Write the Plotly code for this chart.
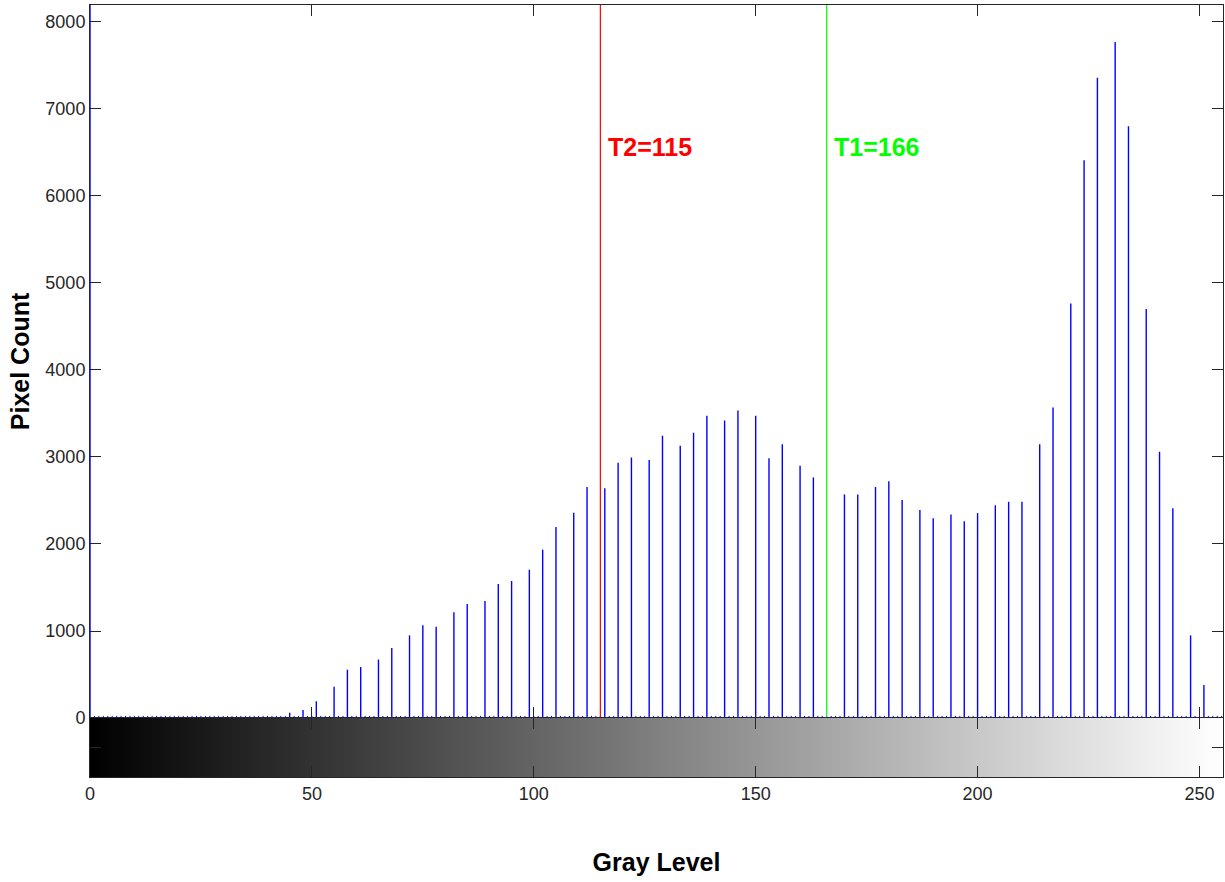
import plotly.graph_objects as go

# ---- data ----
stem_levels = [0, 45, 48, 51, 55, 58, 61, 65, 68, 72, 75, 78, 82, 85, 89, 92, 95, 99,
               102, 105, 109, 112, 116, 119, 122, 126, 129, 133, 136, 139, 143, 146,
               150, 153, 156, 160, 163, 170, 173, 177, 180, 183, 187, 190, 194, 197,
               200, 204, 207, 210, 214, 217, 221, 224, 227, 231, 234, 238, 241, 244,
               248, 251]
stem_counts = [8200, 60, 92, 192, 360, 555, 586, 672, 805, 950, 1065, 1050, 1215, 1310,
               1345, 1540, 1575, 1705, 1935, 2195, 2360, 2655, 2640, 2935, 2995, 2965,
               3245, 3130, 3280, 3475, 3420, 3535, 3475, 2985, 3145, 2900, 2765, 2570,
               2570, 2655, 2720, 2505, 2390, 2295, 2340, 2260, 2355, 2445, 2485, 2485,
               3145, 3570, 4765, 6410, 7360, 7770, 6800, 4700, 3060, 2410, 950, 380]
gray_levels = list(range(256))
T2 = 115
T1 = 166
T2_label = "T2=115"
T1_label = "T1=166"
y_max = 8195
x_ticks = [0, 50, 100, 150, 200, 250]
y_ticks = [0, 1000, 2000, 3000, 4000, 5000, 6000, 7000, 8000]

# ---- build stems ----
sx, sy = [], []
for g, c in zip(stem_levels, stem_counts):
    sx += [g, g, None]
    sy += [0, c, None]
zero_bins = [g for g in gray_levels if g not in stem_levels]

FONT = "Liberation Sans, Arial, sans-serif"
AX = "#262626"

fig = go.Figure()
fig.add_trace(go.Heatmap(x=gray_levels, y=[0.5], z=[gray_levels], dy=1,
                         colorscale=[[0, "#000000"], [1, "#FFFFFF"]],
                         showscale=False, xaxis="x2", yaxis="y2", hoverinfo="skip"))
fig.add_trace(go.Scatter(x=sx, y=sy, mode="lines",
                         line=dict(color="#0000FF", width=1.4), showlegend=False))
fig.add_trace(go.Scatter(x=zero_bins, y=[0] * len(zero_bins), mode="markers",
                         marker=dict(symbol="line-ns", size=3,
                                     line=dict(color="#0000FF", width=1)),
                         showlegend=False, cliponaxis=False))
fig.add_trace(go.Scatter(x=[T2, T2], y=[0, y_max], mode="lines",
                         line=dict(color="#FF0000", width=1.2), showlegend=False))
fig.add_trace(go.Scatter(x=[T1, T1], y=[0, y_max], mode="lines",
                         line=dict(color="#00FF00", width=1.2), showlegend=False))

fig.add_annotation(x=T2 + 1.3, y=6560, text=T2_label, showarrow=False,
                   xanchor="left", yanchor="middle",
                   font=dict(family=FONT, size=25, color="#FF0000", weight="bold"))
fig.add_annotation(x=T1 + 1.3, y=6560, text=T1_label, showarrow=False,
                   xanchor="left", yanchor="middle",
                   font=dict(family=FONT, size=25, color="#00FF00", weight="bold"))

dom = 59 / 772
common_x = dict(range=[0, 255.3], tickvals=x_ticks, ticks="inside", ticklen=11,
                tickcolor=AX, showline=True, linecolor=AX, linewidth=1,
                mirror="ticks", showgrid=False, zeroline=False, automargin=False)
fig.update_layout(
    width=1225, height=882,
    margin=dict(l=90, r=2, t=5, b=105, autoexpand=False),
    paper_bgcolor="white", plot_bgcolor="white",
    font=dict(family=FONT, size=18, color=AX),
    xaxis=dict(anchor="y", showticklabels=False, layer="below traces", **common_x),
    yaxis=dict(domain=[dom, 1], range=[0, y_max], tickvals=y_ticks, ticks="inside",
               ticklen=11, tickcolor=AX, showline=True, linecolor=AX, linewidth=1,
               mirror="ticks", showgrid=False, zeroline=False, automargin=False,
               layer="below traces",
               tickfont=dict(size=18, color=AX),
               title=dict(text="Pixel Count", standoff=8,
                          font=dict(family=FONT, size=25, color="#000000", weight="bold"))),
    xaxis2=dict(anchor="y2", matches="x", showticklabels=True,
                tickfont=dict(size=18, color=AX),
                title=dict(text="Gray Level", standoff=50,
                           font=dict(family=FONT, size=25, color="#000000", weight="bold")),
                **common_x),
    yaxis2=dict(domain=[0, dom], range=[0, 1], tickvals=[0.5], ticks="inside",
                ticklen=11, tickcolor=AX, showticklabels=False, showline=True,
                linecolor=AX, linewidth=1, mirror="ticks", showgrid=False,
                zeroline=False, automargin=False),
    showlegend=False,
)

fig.write_html("out.html", config={"displayModeBar": False},
               post_script="document.body.style.margin='0';document.body.style.overflow='hidden';")
